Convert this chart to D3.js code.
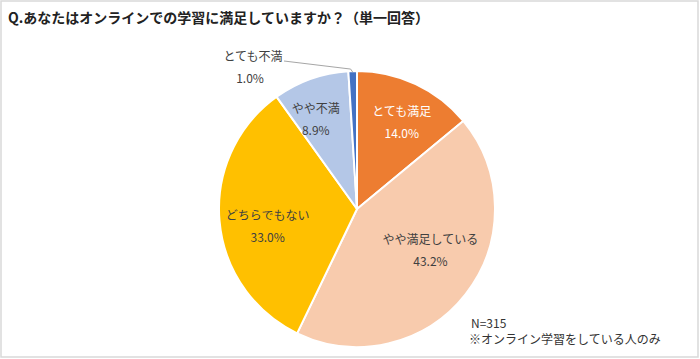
<!DOCTYPE html>
<html><head><meta charset="utf-8">
<script src="https://cdn.jsdelivr.net/npm/d3@7"></script>
<style>
html,body{margin:0;padding:0;background:#fff;}
svg{display:block;font-family:"Noto Sans CJK JP","Noto Sans",sans-serif;}
</style></head>
<body><svg id="c" width="700" height="359"></svg>
<script>
const categories = ["とても満足","やや満足している","どちらでもない","やや不満","とても不満"];
const values = [14.0, 43.2, 33.0, 8.9, 1.0];
const colors = ["#ED7D31","#F8CBAD","#FFC000","#B4C7E7","#4472C4"];
const textColors = ["#ffffff","#404040","#404040","#404040","#404040"];
const title = "Q.あなたはオンラインでの学習に満足していますか？（単一回答）";
const notes = ["N=315","※オンライン学習をしている人のみ"];

const svg = d3.select("#c");
svg.append("rect").attr("x",1).attr("y",1).attr("width",697).attr("height",356)
  .attr("fill","#fff").attr("stroke","#d9d9d9").attr("stroke-width",1.5);

svg.append("text").attr("x",8).attr("y",23).attr("font-size",14).attr("font-weight","bold")
  .attr("fill","#222").text(title);

const cx = 357, cy = 209, R = 138;
const g = svg.append("g").attr("transform",`translate(${cx},${cy})`);
const pie = d3.pie().sort(null).value(d=>d)(values);
const arc = d3.arc().innerRadius(0).outerRadius(R);
g.selectAll("path").data(pie).enter().append("path")
  .attr("d",arc).attr("fill",(d,i)=>colors[i])
  .attr("stroke","#fff").attr("stroke-width",2).attr("stroke-linejoin","round");

// label layout: radius along centroid angle plus small nudges (Excel best-fit)
const labelR = [98, 84, 91, 99];
const angleNudge = [2, -9, -6, -5]; // degrees
for (let i=0;i<4;i++){
  const d = pie[i];
  const a = (d.startAngle+d.endAngle)/2 + angleNudge[i]*Math.PI/180;
  const x = labelR[i]*Math.sin(a), y = -labelR[i]*Math.cos(a);
  const t = g.append("text").attr("text-anchor","middle").attr("font-size",12).attr("fill",textColors[i]);
  t.append("tspan").attr("x",x).attr("y",y-6).text(categories[i]);
  t.append("tspan").attr("x",x).attr("y",y+16).text(values[i].toFixed(1)+"%");
}

// outside label with leader line for the tiny slice
{
  const d = pie[4];
  const a = (d.startAngle+d.endAngle)/2;
  const px = R*Math.sin(a), py = -R*Math.cos(a);
  const lx = 253 - cx, ly = 67 - cy;
  g.append("polyline")
    .attr("points",[[lx+31,ly-6],[px-2,py-2],[px,py+1]].map(p=>p.join(",")).join(" "))
    .attr("fill","none").attr("stroke","#a6a6a6").attr("stroke-width",1);
  const t = g.append("text").attr("text-anchor","middle").attr("font-size",12).attr("fill","#404040");
  t.append("tspan").attr("x",lx).attr("y",ly-6).text(categories[4]);
  t.append("tspan").attr("x",lx-3).attr("y",ly+16).text(values[4].toFixed(1)+"%");
}

svg.append("text").attr("x",471).attr("y",328).attr("font-size",12).attr("fill","#333").text(notes[0]);
svg.append("text").attr("x",469).attr("y",344).attr("font-size",12).attr("fill","#333").text(notes[1]);
</script></body></html>
